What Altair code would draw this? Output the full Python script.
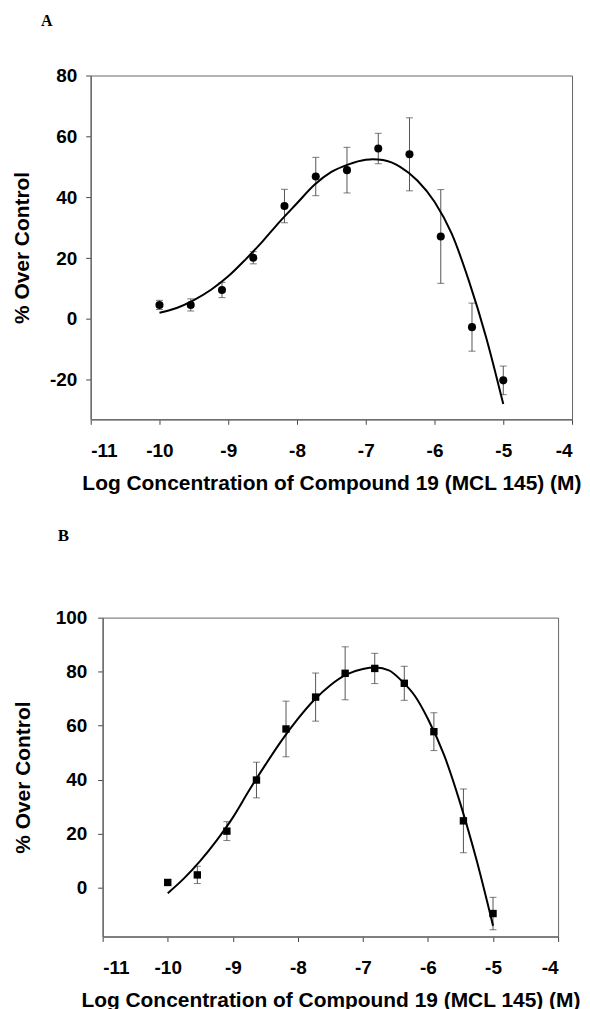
import altair as alt
import pandas as pd

# ---------------- data ----------------
conc = [-10.0, -9.545, -9.091, -8.636, -8.182, -7.727, -7.273, -6.818, -6.364, -5.909, -5.455, -5.0]

a_mean = [4.6, 4.6, 9.5, 20.1, 37.1, 46.8, 48.9, 56.0, 54.1, 27.1, -2.7, -20.2]
a_err = [1.5, 2.0, 2.5, 2.0, 5.5, 6.3, 7.5, 5.0, 12.0, 15.4, 7.9, 4.7]
a_fit_x = [-10.0, -9.75, -9.5, -9.25, -9.0, -8.75, -8.5, -8.25, -8.0, -7.75, -7.5, -7.25,
           -7.0, -6.9, -6.75, -6.5, -6.25, -6.0, -5.75, -5.5, -5.25, -5.0]
a_fit_y = [2.0, 3.6, 6.2, 9.6, 14.0, 19.5, 25.5, 32.0, 38.0, 44.0, 48.3, 50.8,
           52.3, 52.5, 52.2, 50.0, 45.5, 38.5, 28.0, 12.5, -6.0, -28.0]

b_mean = [2.0, 4.8, 21.0, 39.9, 58.8, 70.6, 79.4, 81.2, 75.7, 57.8, 24.8, -9.5]
b_err = [1.0, 3.2, 3.5, 6.6, 10.3, 8.9, 9.8, 5.6, 6.3, 7.0, 11.8, 6.0]
b_fit_x = [-10.0, -9.75, -9.5, -9.25, -9.0, -8.75, -8.5, -8.25, -8.0, -7.75, -7.5, -7.25,
           -7.0, -6.8, -6.6, -6.4, -6.2, -6.0, -5.75, -5.5, -5.25, -5.0]
b_fit_y = [-2.0, 3.5, 10.0, 17.5, 26.0, 36.0, 45.5, 54.5, 62.5, 69.5, 75.0, 79.0,
           81.0, 81.5, 80.5, 76.5, 71.0, 62.5, 49.0, 31.0, 10.0, -14.0]

x_ticks = [-11, -10, -9, -8, -7, -6, -5, -4]
a_ticks = [-20, 0, 20, 40, 60, 80]
b_ticks = [0, 20, 40, 60, 80, 100]

X_TITLE = "Log Concentration of Compound 19 (MCL 145) (M)"
Y_TITLE = "% Over Control"
FONT = "Liberation Sans"


def panel(label, mean, err, fit_x, fit_y, shape, size, ydom, yticks, w, h,
          ylabel_pad, ytitle_pad, title_dx, title_off, title_size):
    pts = pd.DataFrame({"x": conc, "y": mean,
                        "lo": [m - e for m, e in zip(mean, err)],
                        "hi": [m + e for m, e in zip(mean, err)]})
    fit = pd.DataFrame({"x": fit_x, "y": fit_y})

    xenc = alt.X("x:Q", title=X_TITLE,
                 scale=alt.Scale(domain=[-11, -4], nice=False, zero=False),
                 axis=alt.Axis(values=x_ticks, labelExpr="datum.value + ''",
                               labelPadding=17, titlePadding=12, tickSize=5))
    yax = alt.Axis(values=yticks, labelExpr="datum.value + ''", labelPadding=ylabel_pad,
                   titlePadding=ytitle_pad, tickSize=5)
    yscale = alt.Scale(domain=ydom, nice=False, zero=False)

    def Y(field):
        return alt.Y(field + ":Q", title=Y_TITLE, scale=yscale, axis=yax)

    line = alt.Chart(fit).mark_line(color="black", strokeWidth=2,
                                    interpolate="monotone").encode(x=xenc, y=Y("y"))
    bars = alt.Chart(pts).mark_rule(color="#555555", strokeWidth=1).encode(
        x=xenc, y=Y("lo"), y2="hi")
    cap_lo = alt.Chart(pts).mark_tick(orient="horizontal", size=7, thickness=1,
                                      color="#444444").encode(x=xenc, y=Y("lo"))
    cap_hi = alt.Chart(pts).mark_tick(orient="horizontal", size=7, thickness=1,
                                      color="#444444").encode(x=xenc, y=Y("hi"))
    dots = alt.Chart(pts).mark_point(filled=True, shape=shape, size=size,
                                     color="black", opacity=1).encode(x=xenc, y=Y("y"))

    return alt.layer(bars, cap_lo, cap_hi, line, dots).properties(
        width=w, height=h,
        title=alt.TitleParams(label, anchor="start", frame="group", dx=title_dx,
                              offset=title_off, font="Liberation Serif",
                              fontSize=title_size, fontWeight="bold", color="black"))


def spacer(w):
    return alt.Chart(pd.DataFrame({"v": [0]})).mark_rule(opacity=0).encode(
        x=alt.value(0), x2=alt.value(w), y=alt.value(0)
    ).properties(width=w, height=1, view=alt.ViewBackground(stroke="transparent"))


pa = panel("A", a_mean, a_err, a_fit_x, a_fit_y, "circle", 65, [-33, 80], a_ticks,
           483, 345, 9, 17, -50, 38, 16)
pb = panel("B", b_mean, b_err, b_fit_x, b_fit_y, "square", 55, [-18, 100], b_ticks,
           457, 320, 11, 22, -45, 64, 17)

row_a = alt.hconcat(spacer(1), pa, spacing=0)
row_b = alt.hconcat(spacer(1), pb, spacing=0)

chart = alt.vconcat(row_a, row_b, spacing=32).properties(
    padding={"left": 0, "top": 2, "right": 0, "bottom": 0}
).configure_axis(
    labelFont=FONT, labelFontSize=19, labelFontWeight="bold", labelColor="black",
    titleFont=FONT, titleFontSize=21, titleFontWeight="bold", titleColor="black",
    domainColor="#6e6e6e", domainWidth=1.5, tickColor="#444444", tickWidth=1,
    grid=False
).configure_view(stroke="#666666", strokeWidth=1)

chart.save("out.html", embed_options={"renderer": "svg", "actions": False})
